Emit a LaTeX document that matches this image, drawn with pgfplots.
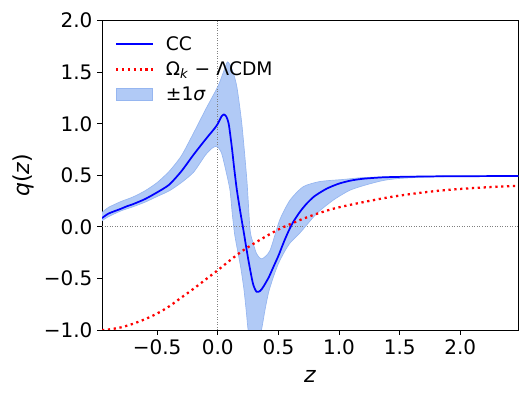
\documentclass[border=0pt]{standalone}
\usepackage{fontspec}
\setmainfont{DejaVu Sans}
\usepackage{pgfplots}
\pgfplotsset{compat=1.18}
\usepgfplotslibrary{fillbetween}

\definecolor{bandfill}{RGB}{177,202,246}
\definecolor{bandedge}{RGB}{150,182,240}
\definecolor{ccblue}{RGB}{0,0,255}
\definecolor{lcdmred}{RGB}{255,0,0}

\pgfplotsset{
    linelegend/.style={legend image code/.code={\draw[##1] (0pt,0pt) -- (27.5pt,0pt);}},
    bandlegend/.style={legend image code/.code={\draw[##1] (0pt,-4.6pt) rectangle (27.5pt,4.6pt);}},
}

\begin{document}
\begin{tikzpicture}
\begin{axis}[
    name=ax,
    scale only axis, width=312.2pt, height=232pt,
    xmin=-0.955, xmax=2.478, ymin=-1, ymax=2,
    xtick={-0.5,0,...,2}, xticklabels={−0.5,0.0,0.5,1.0,1.5,2.0},
    ytick={-1,-0.5,...,2}, yticklabels={−1.0,−0.5,0.0,0.5,1.0,1.5,2.0},
    tick align=outside, tick pos=left, major tick length=3.7pt,
    every tick/.style={black, line width=0.6pt},
    axis line style={line width=0.6pt},
    tick label style={font=\fontsize{15}{18}\selectfont},
    xlabel={\textit{z}}, ylabel={\textit{q}(\textit{z})},
    label style={font=\fontsize{16.5}{20}\selectfont},
    xlabel style={at={(axis description cs:0.5,-0.171)}, anchor=base},
    ylabel style={at={(axis description cs:-0.188,0.5)}, anchor=center},
    legend style={at={(axis description cs:0,1)}, anchor=north west,
        xshift=6.5pt, yshift=-7.5pt, draw=none, fill=none,
        font=\fontsize{14}{16.5}\selectfont, row sep=3pt,
        nodes={inner xsep=5pt},
        /tikz/every odd column/.append style={column sep=4pt}},
    legend cell align=left,
]
% reference lines
\addplot[gray, line width=0.6pt, dash pattern=on 0.6pt off 1.3pt, forget plot]
    coordinates {(0,-1)(0,2)};
\addplot[gray, line width=0.6pt, dash pattern=on 0.6pt off 1.3pt, forget plot]
    coordinates {(-0.955,0)(2.478,0)};

% 1 sigma band
\addplot[name path=up, bandedge, line width=0.5pt, smooth, tension=0.4, forget plot] coordinates {
    (-0.955,0.14)(-0.9,0.19)(-0.8,0.245)(-0.7,0.29)(-0.6,0.35)(-0.5,0.43)
    (-0.4,0.54)(-0.3,0.69)(-0.2,0.91)(-0.1,1.14)(0.0,1.36)(0.04,1.48)
    (0.08,1.60)(0.12,1.52)(0.157,1.36)(0.198,1.0)(0.24,0.45)(0.266,-0.03)
    (0.29,-0.15)(0.32,-0.26)(0.363,-0.31)(0.43,-0.23)(0.51,0.065)(0.596,0.26)
    (0.705,0.39)(0.843,0.44)(1.035,0.46)(1.2,0.478)(1.5,0.489)(1.9,0.493)(2.478,0.495)
};
\addplot[name path=lo, bandedge, line width=0.5pt, smooth, tension=0.4, forget plot] coordinates {
    (-0.955,0.06)(-0.9,0.10)(-0.8,0.155)(-0.7,0.195)(-0.6,0.24)(-0.5,0.295)
    (-0.4,0.35)(-0.3,0.43)(-0.2,0.53)(-0.1,0.70)(-0.05,0.76)(-0.02,0.78)
    (0.0,0.775)(0.03,0.72)(0.06,0.58)(0.1,0.36)(0.12,0.12)(0.14,-0.08)
    (0.165,-0.24)(0.19,-0.40)(0.215,-0.6)(0.235,-0.82)(0.25,-1.0)(0.27,-1.12)
    (0.30,-1.18)(0.33,-1.12)(0.36,-1.0)(0.39,-0.8)(0.42,-0.63)(0.46,-0.48)
    (0.5,-0.355)(0.55,-0.24)(0.6,-0.15)(0.68,-0.055)(0.816,0.13)(0.953,0.26)
    (1.09,0.356)(1.23,0.41)(1.365,0.45)(1.5,0.47)(1.8,0.486)(2.478,0.492)
};
\addplot[bandfill, forget plot] fill between[of=up and lo];

% CC reconstruction
\addplot[ccblue, line width=1.3pt, smooth, tension=0.4, linelegend] coordinates {
    (-0.955,0.085)(-0.9,0.13)(-0.8,0.175)(-0.75,0.2)(-0.7,0.22)(-0.6,0.27)
    (-0.5,0.335)(-0.4,0.41)(-0.3,0.54)(-0.2,0.70)(-0.1,0.85)(-0.03,0.95)
    (0.0,1.0)(0.03,1.07)(0.05,1.09)(0.07,1.07)(0.09,1.0)(0.115,0.78)
    (0.135,0.57)(0.157,0.36)(0.185,0.15)(0.211,-0.03)(0.252,-0.32)(0.29,-0.55)
    (0.32,-0.63)(0.35,-0.62)(0.376,-0.58)(0.42,-0.49)(0.458,-0.39)(0.5,-0.28)
    (0.54,-0.16)(0.58,-0.05)(0.623,0.05)(0.68,0.15)(0.734,0.227)(0.8,0.30)
    (0.9,0.372)(1.0,0.42)(1.1,0.45)(1.2,0.467)(1.35,0.48)(1.5,0.485)
    (1.8,0.49)(2.1,0.492)(2.478,0.493)
};
\addlegendentry{CC}

% Omega_k - LCDM
\addplot[lcdmred, line width=1.7pt, dash pattern=on 1.7pt off 2.7pt, smooth, linelegend] coordinates {
    (-0.955,-1.0)(-0.9,-0.995)(-0.8,-0.975)(-0.7,-0.94)(-0.6,-0.895)(-0.5,-0.84)
    (-0.4,-0.77)(-0.3,-0.685)(-0.2,-0.6)(-0.1,-0.51)(0.0,-0.42)(0.1,-0.325)
    (0.2,-0.235)(0.3,-0.16)(0.4,-0.09)(0.5,-0.025)(0.6,0.028)(0.7,0.077)
    (0.8,0.12)(0.9,0.158)(1.0,0.19)(1.2,0.24)(1.4,0.285)(1.6,0.32)
    (1.8,0.348)(2.0,0.368)(2.2,0.383)(2.478,0.398)
};
\addlegendentry{Ω\textsubscript{\textit{k}} − ΛCDM}

\addlegendimage{bandlegend, fill=bandfill, draw=bandedge}
\addlegendentry{±1\textit{σ}}
\end{axis}
\pgfresetboundingbox
\path[use as bounding box] ([shift={(-76.5pt,-51.75pt)}]ax.south west)
    rectangle ([shift={(321.75pt,247.5pt)}]ax.south west);
\end{tikzpicture}
\end{document}
